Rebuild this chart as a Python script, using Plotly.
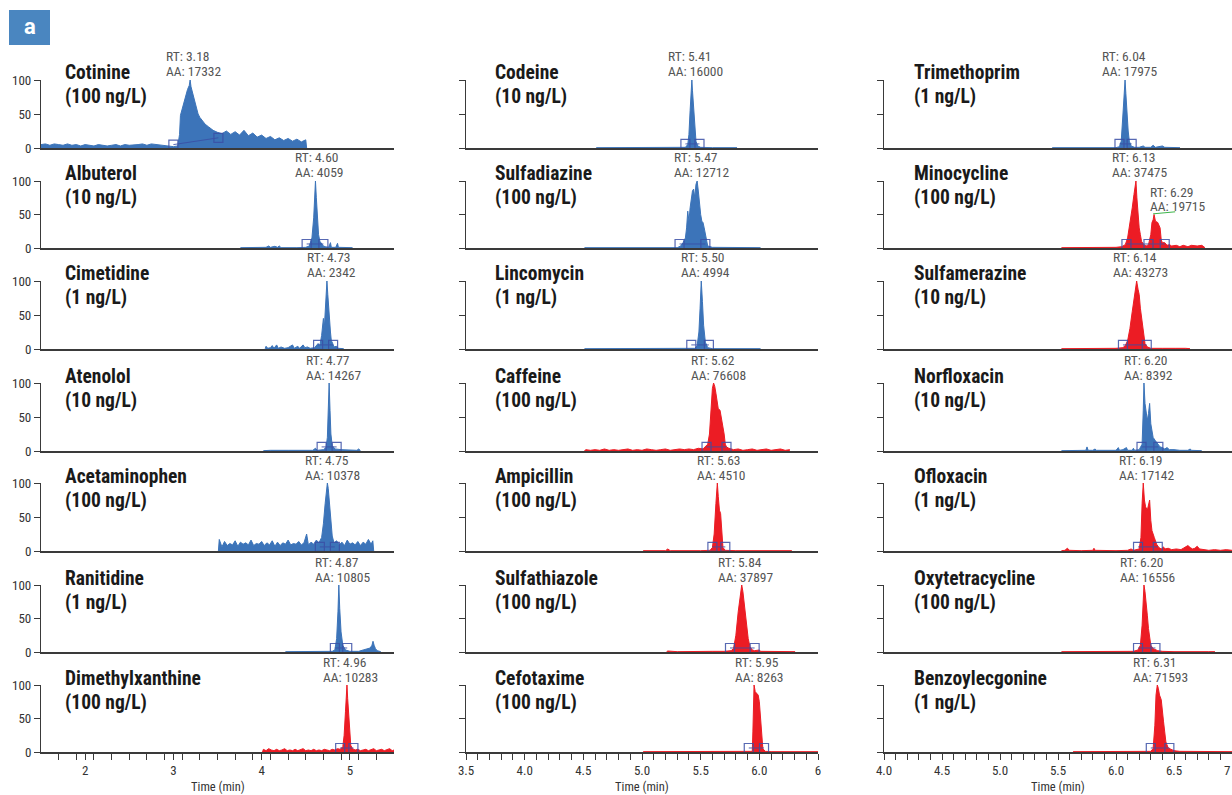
import plotly.graph_objects as go

W, H = 1232, 795
FONT = "Liberation Sans Narrow, Roboto Condensed, Arial Narrow, Roboto, Liberation Sans, Arial, sans-serif"
BLUE = "#3c74b9"
RED = "#ec1c24"
BOX = "#3a4fa6"
TXT = "#555555"
AXIS = "#3a3a3a"

# ---------------- data (time in min, relative abundance in %) ----------------
cotinine_t = [1.50,1.55,1.60,1.65,1.70,1.75,1.80,1.85,1.90,1.95,2.00,2.05,2.10,2.15,2.20,2.25,2.30,2.35,2.40,2.45,
              2.50,2.55,2.60,2.65,2.70,2.75,2.80,2.85,2.90,2.95,3.00,3.05,3.07,3.08,3.10,3.12,3.14,3.16,3.18,3.19,
              3.20,3.22,3.24,3.26,3.28,3.30,3.33,3.36,3.40,3.45,3.50,3.55,3.60,3.65,3.70,3.75,3.80,3.85,3.90,3.95,
              4.00,4.05,4.10,4.15,4.20,4.25,4.30,4.35,4.40,4.45,4.50,4.51]
cotinine_y = [5,6,4,6,5,4,6,4,5,3,5,4,3,5,4,3,4,5,3,5,4,4,5,6,4,6,5,4,3,2,
              2,3,20,48,58,68,78,86,92,100,90,80,66,56,50,45,40,35,
              31,26,23,21,25,20,24,19,26,18,22,16,19,14,17,12,15,11,14,10,13,9,12,0]
albuterol_t = [3.76,3.80,4.05,4.08,4.10,4.15,4.18,4.20,4.22,4.40,4.50,4.54,4.57,4.59,4.60,4.61,4.62,4.63,4.645,4.66,
               4.68,4.70,4.72,4.76,4.78,4.79,4.84,4.86,4.87,4.95,5.03]
albuterol_y = [0.5,0.5,1,3,1,2.5,1,3,0.5,0.5,1,3,15,45,80,100,75,45,20,10,6,3,2,1,8,1,1,7,1,0.5,0.5]
cimetidine_t = [4.04,4.05,4.07,4.10,4.12,4.14,4.17,4.19,4.22,4.26,4.30,4.35,4.37,4.41,4.43,4.47,4.49,4.52,4.55,4.60,
                4.64,4.66,4.68,4.70,4.71,4.72,4.73,4.74,4.75,4.76,4.77,4.78,4.79,4.80,4.82,4.85,4.87,4.93]
cimetidine_y = [0.5,4,1,2,5,1,6,1,3,1,2,6,1,4,1,6,2,3,1,2,8,5,20,45,30,55,70,100,80,55,40,25,12,10,3,4,1,0.5]
atenolol_t = [4.02,4.10,4.30,4.50,4.58,4.61,4.63,4.70,4.73,4.745,4.755,4.765,4.775,4.785,4.80,4.83,4.90,5.00,5.08,5.10,5.12]
atenolol_y = [0.5,1,1,1,1,4,1,2,5,20,60,100,60,25,8,3,2,1,1,3,0.5]
acetaminophen_t = [3.51,3.52,3.55,3.58,3.61,3.64,3.67,3.70,3.73,3.76,3.79,3.82,3.85,3.88,3.91,3.94,3.97,4.00,4.03,4.06,
                   4.09,4.12,4.15,4.18,4.21,4.24,4.27,4.30,4.33,4.36,4.39,4.42,4.45,4.48,4.51,4.53,4.56,4.59,4.62,4.65,
                   4.68,4.70,4.72,4.735,4.745,4.755,4.77,4.785,4.80,4.82,4.85,4.88,4.91,4.94,4.97,5.00,5.03,5.06,5.09,5.12,
                   5.15,5.18,5.21,5.24,5.26,5.27]
acetaminophen_y = [0,17,6,14,8,11,9,15,7,13,10,12,9,16,8,11,10,14,8,12,9,15,7,13,8,12,10,16,9,11,
                   10,14,9,12,25,9,13,10,16,12,20,40,70,95,100,92,70,45,22,12,15,9,13,8,16,10,12,9,14,8,
                   13,10,17,10,15,0]
ranitidine_t = [4.27,4.30,4.50,4.60,4.70,4.80,4.83,4.85,4.865,4.875,4.885,4.90,4.92,4.95,5.00,5.10,5.15,5.20,5.23,5.25,
                5.262,5.275,5.29,5.31,5.34,5.35]
ranitidine_y = [0.5,0.5,1,0.5,1,1,3,20,60,100,65,30,10,3,1,1,3,5,6,10,16,10,5,2,1,0.5]
dimethylxanthine_t = [4.01,4.02,4.05,4.08,4.11,4.14,4.17,4.20,4.23,4.26,4.29,4.32,4.35,4.38,4.41,4.44,4.47,4.50,4.53,4.56,
                      4.59,4.62,4.65,4.68,4.71,4.74,4.77,4.80,4.83,4.86,4.89,4.92,4.935,4.95,4.96,4.967,4.975,4.985,4.995,5.01,
                      5.03,5.06,5.09,5.12,5.15,5.18,5.21,5.24,5.27,5.30,5.33,5.36,5.39,5.42,5.45,5.48,5.50]
dimethylxanthine_y = [0,4,2,5,3,2,4,2,3,5,2,3,2,4,2,3,5,2,3,2,4,2,3,2,4,3,2,4,3,5,
                      4,8,25,60,85,100,80,60,35,10,5,3,4,2,3,4,2,3,5,2,3,4,2,3,5,2,3]
codeine_t = [4.61,4.70,5.00,5.30,5.37,5.39,5.40,5.41,5.42,5.425,5.43,5.44,5.45,5.46,5.475,5.50,5.60,5.81]
codeine_y = [0.5,0.5,0.5,0.5,1,5,20,55,90,100,85,55,25,10,3,1,0.5,0.5]
sulfadiazine_t = [4.51,4.60,5.00,5.30,5.33,5.35,5.37,5.38,5.39,5.40,5.41,5.42,5.43,5.44,5.45,5.46,5.47,5.48,5.49,5.50,
                  5.51,5.52,5.53,5.54,5.55,5.56,5.60,5.80,6.01]
sulfadiazine_y = [0.5,0.5,0.5,0.5,3,8,15,30,55,40,60,70,85,88,75,95,100,85,60,50,40,38,30,22,10,3,1,0.5,0.5]
lincomycin_t = [4.51,4.80,5.20,5.45,5.47,5.485,5.495,5.505,5.515,5.525,5.54,5.56,5.60,6.01]
lincomycin_y = [0.5,0.5,0.5,1,5,25,60,100,70,35,10,2,0.5,0.5]
caffeine_t = [4.51,4.52,4.56,4.60,4.64,4.68,4.72,4.76,4.80,4.84,4.88,4.92,4.96,5.00,5.04,5.08,5.12,5.16,5.20,5.24,
              5.28,5.32,5.36,5.40,5.44,5.48,5.52,5.54,5.56,5.575,5.59,5.60,5.61,5.62,5.63,5.64,5.65,5.665,5.68,5.69,
              5.70,5.71,5.72,5.74,5.78,5.82,5.86,5.90,5.94,5.98,6.02,6.06,6.10,6.14,6.18,6.22,6.26]
caffeine_y = [0,2,1,2,1,3,1,2,1,2,3,1,2,1,3,2,1,2,3,1,2,3,2,3,2,4,3,6,10,25,
              70,92,100,95,85,70,62,60,45,40,25,10,6,4,2,3,1,2,3,1,2,3,1,2,3,1,2]
ampicillin_t = [5.01,5.10,5.20,5.22,5.24,5.50,5.58,5.60,5.615,5.63,5.642,5.65,5.66,5.67,5.68,5.69,5.71,5.80,6.277]
ampicillin_y = [0.5,0.5,0.5,3,0.5,0.5,1,5,25,70,100,80,60,55,20,5,1,0.5,0.5]
sulfathiazole_t = [5.21,5.22,5.30,5.40,5.50,5.60,5.70,5.76,5.78,5.80,5.82,5.84,5.85,5.86,5.875,5.89,5.905,5.92,5.94,5.96,
                   6.00,6.01,6.10,6.20,6.25,6.305]
sulfathiazole_y = [0.5,1.5,0.5,1,0.5,1,1,2,5,25,60,90,100,90,65,40,20,8,3,2,3,1,1,1.5,1,0.5]
cefotaxime_t = [5.01,5.50,5.90,5.94,5.945,5.955,5.965,5.975,5.99,6.00,6.01,6.02,6.03,6.05,6.10,6.50]
cefotaxime_y = [0.5,0.5,0.5,1,30,100,90,88,85,75,50,20,5,1,0.5,0.5]
trimethoprim_t = [5.45,5.50,5.80,6.00,6.03,6.045,6.06,6.07,6.078,6.085,6.095,6.105,6.115,6.13,6.16,6.20,6.235,6.25,6.30,6.32,
                  6.34,6.40,6.42,6.552]
trimethoprim_y = [0.5,0.5,0.5,0.5,2,10,50,90,100,80,50,25,10,3,1,1,3,1,1,4,1,3,1,0.5]
minocycline_t = [5.53,5.60,5.80,6.00,6.05,6.08,6.10,6.12,6.14,6.155,6.165,6.172,6.18,6.19,6.20,6.21,6.22,6.24,6.26,6.28,
                 6.29,6.30,6.31,6.32,6.328,6.34,6.36,6.38,6.39,6.40,6.42,6.44,6.46,6.48,6.52,6.55,6.58,6.62,6.65,6.70,
                 6.74,6.767]
minocycline_y = [0.5,0.5,0.5,1,2,5,15,35,60,80,95,100,75,50,30,20,10,5,3,5,
                 15,20,38,42,50,40,38,30,12,8,8,4,5,3,4,2,4,2,4,3,4,0.5]
sulfamerazine_t = [5.53,5.60,5.90,6.00,6.06,6.08,6.10,6.12,6.14,6.155,6.17,6.178,6.19,6.20,6.21,6.22,6.23,6.24,6.25,6.27,
                   6.30,6.40,6.50,6.51,6.60,6.638]
sulfamerazine_y = [0.5,0.5,0.5,1,2,5,12,30,55,75,95,100,88,80,60,45,30,15,8,3,1,1,2,1,1,0.5]
norfloxacin_t = [5.53,5.60,5.74,5.75,5.76,5.80,5.82,5.83,5.90,6.00,6.02,6.03,6.06,6.09,6.10,6.14,6.15,6.16,6.20,6.225,
                 6.235,6.241,6.25,6.26,6.27,6.28,6.29,6.30,6.31,6.32,6.34,6.36,6.38,6.40,6.42,6.44,6.46,6.50,6.55,6.62,
                 6.64,6.65,6.70,6.739]
norfloxacin_y = [0.5,0.5,1,6,1,1,3,1,1,1,5,1,2,5,1,1,4,1,2,10,
                 60,100,70,55,45,55,70,40,30,20,15,10,6,5,3,5,2,2,1,1,3,1,1,0.5]
ofloxacin_t = [5.53,5.56,5.58,5.60,5.70,5.80,5.81,5.82,6.00,6.10,6.13,6.15,6.20,6.215,6.225,6.235,6.245,6.255,6.27,6.28,
               6.29,6.30,6.31,6.33,6.35,6.37,6.39,6.41,6.42,6.45,6.48,6.52,6.56,6.58,6.60,6.62,6.64,6.66,6.68,6.70,
               6.72,6.75,6.80,6.85,6.90,6.95,7.00]
ofloxacin_y = [0.5,1,4,1,0.5,1,4,1,0.5,1,3,1,3,20,70,100,75,65,60,70,
               75,45,30,20,10,5,3,6,3,4,2,3,2,4,6,8,5,3,4,7,3,2,1,2,1,2,1]
oxytetracycline_t = [5.53,5.60,6.00,6.15,6.19,6.21,6.225,6.235,6.241,6.25,6.26,6.27,6.28,6.29,6.30,6.32,6.34,6.36,6.40,6.50,
                     6.80,6.853]
oxytetracycline_y = [0.5,0.5,0.5,1,3,10,40,80,100,90,75,55,35,20,10,5,3,2,1,0.5,0.5,0.5]
benzoylecgonine_t = [5.63,5.64,6.00,6.20,6.30,6.32,6.335,6.345,6.356,6.365,6.375,6.39,6.40,6.41,6.42,6.43,6.45,6.48,6.50,6.55,
                     6.70,7.00]
benzoylecgonine_y = [0.5,0.5,0.5,0.5,1,5,40,85,100,95,85,78,65,45,30,15,6,3,2,1,0.5,0.5]

# compound names, concentrations (column-major order)
compounds = ["Cotinine", "Albuterol", "Cimetidine", "Atenolol", "Acetaminophen", "Ranitidine", "Dimethylxanthine",
             "Codeine", "Sulfadiazine", "Lincomycin", "Caffeine", "Ampicillin", "Sulfathiazole", "Cefotaxime",
             "Trimethoprim", "Minocycline", "Sulfamerazine", "Norfloxacin", "Ofloxacin", "Oxytetracycline", "Benzoylecgonine"]
concentrations = ["(100 ng/L)", "(10 ng/L)", "(1 ng/L)", "(10 ng/L)", "(100 ng/L)", "(1 ng/L)", "(100 ng/L)",
                  "(10 ng/L)", "(100 ng/L)", "(1 ng/L)", "(100 ng/L)", "(100 ng/L)", "(100 ng/L)", "(100 ng/L)",
                  "(1 ng/L)", "(100 ng/L)", "(10 ng/L)", "(10 ng/L)", "(1 ng/L)", "(100 ng/L)", "(1 ng/L)"]
rt_values = ["3.18", "4.60", "4.73", "4.77", "4.75", "4.87", "4.96",
             "5.41", "5.47", "5.50", "5.62", "5.63", "5.84", "5.95",
             "6.04", "6.13", "6.14", "6.20", "6.19", "6.20", "6.31"]
aa_values = ["17332", "4059", "2342", "14267", "10378", "10805", "10283",
             "16000", "12712", "4994", "76608", "4510", "37897", "8263",
             "17975", "37475", "43273", "8392", "17142", "16556", "71593"]
label_left_t = [2.894, 4.356, 4.492, 4.480, 4.469, 4.582, 4.673,
                5.205, 5.256, 5.316, 5.401, 5.452, 5.631, 5.776,
                5.862, 5.948, 5.957, 6.052, 6.009, 6.017, 6.129]
trace_kind = ["b", "b", "b", "b", "b", "b", "r",
              "b", "b", "b", "r", "r", "r", "r",
              "b", "r", "r", "b", "r", "r", "r"]
# integration window markers (min)
integration_t = [[3.00, 3.51], [4.51, 4.70], [4.64, 4.81], [4.68, 4.85], [4.66, 4.83], [4.83, 4.97], [4.89, 5.04],
                 [5.37, 5.49], [5.32, 5.54], [5.42, 5.57], [5.55, 5.72], [5.60, 5.71], [5.75, 5.96], [5.91, 6.04],
                 [6.03, 6.135], [6.09, 6.28, 6.42], [6.06, 6.265], [6.22, 6.365], [6.19, 6.36], [6.19, 6.34], [6.30, 6.46]]
cotinine_baseline_y = [5, 15]
second_peak_label = ("6.29", "19715")

series_t = [cotinine_t, albuterol_t, cimetidine_t, atenolol_t, acetaminophen_t, ranitidine_t, dimethylxanthine_t,
            codeine_t, sulfadiazine_t, lincomycin_t, caffeine_t, ampicillin_t, sulfathiazole_t, cefotaxime_t,
            trimethoprim_t, minocycline_t, sulfamerazine_t, norfloxacin_t, ofloxacin_t, oxytetracycline_t, benzoylecgonine_t]
series_y = [cotinine_y, albuterol_y, cimetidine_y, atenolol_y, acetaminophen_y, ranitidine_y, dimethylxanthine_y,
            codeine_y, sulfadiazine_y, lincomycin_y, caffeine_y, ampicillin_y, sulfathiazole_y, cefotaxime_y,
            trimethoprim_y, minocycline_y, sulfamerazine_y, norfloxacin_y, ofloxacin_y, oxytetracycline_y, benzoylecgonine_y]

# axis ticks
col_tickvals = [[2, 3, 4, 5], [3.5, 4.0, 4.5, 5.0, 5.5, 6.0, 6.5], [4.0, 4.5, 5.0, 5.5, 6.0, 6.5, 7.0]]
col_ticktext = [["2", "3", "4", "5"], ["3.5", "4.0", "4.5", "5.0", "5.5", "6.0", "6"], ["4.0", "4.5", "5.0", "5.5", "6.0", "6.5", "7"]]

# ---------------- layout geometry ----------------
x_dom_px = [(41, 394), (466, 818), (884, 1232)]
x_ranges = [(1.5, 5.5), (3.5, 6.5), (4.0, 7.0)]
minor_step = [0.2, 0.1, 0.1]
row_top = [80, 181, 281, 383, 483, 585, 685]
row_bot = [148, 248, 349, 451, 551, 652, 752]
name_left_px = [63, 493, 912]

fig = go.Figure()
layout = dict(width=W, height=H, margin=dict(l=0, r=0, t=0, b=0, pad=0, autoexpand=False), autosize=False,
              paper_bgcolor="white", plot_bgcolor="rgba(0,0,0,0)", showlegend=False,
              font=dict(family=FONT, color="#333333", size=12))
annotations = []
shapes = []

for i in range(21):
    c, r = divmod(i, 7)
    k = i + 1
    sx = "" if k == 1 else str(k)
    xref, yref = "x" + sx, "y" + sx
    color = BLUE if trace_kind[i] == "b" else RED
    row_h = row_bot[r] - row_top[r]

    xa = dict(domain=[x_dom_px[c][0] / W, x_dom_px[c][1] / W], range=list(x_ranges[c]), anchor=yref,
              showline=True, linecolor=AXIS, linewidth=1.5, showgrid=False, zeroline=False, fixedrange=True,
              automargin=False)
    if r == 6:
        lo, hi = x_ranges[c]
        n = int(round((hi - lo) / minor_step[c]))
        minors = [round(lo + minor_step[c] * j, 3) for j in range(1, n)]
        minors = [m for m in minors if all(abs(m - v) > 1e-6 for v in col_tickvals[c])]
        # the last label of the right column is drawn separately so it stays inside the page
        tv = col_tickvals[c][:-1] if c == 2 else col_tickvals[c]
        tt = col_ticktext[c][:-1] if c == 2 else col_ticktext[c]
        xa.update(tickmode="array", tickvals=tv, ticktext=tt,
                  ticks="outside", ticklen=6, tickwidth=1, tickcolor=AXIS,
                  tickfont=dict(size=13, color="#333333", family=FONT),
                  minor=dict(tickmode="array", tickvals=minors, ticks="outside", ticklen=6,
                             tickwidth=1, tickcolor=AXIS, showgrid=False))
    else:
        xa.update(showticklabels=False, ticks="")
    ya = dict(domain=[1 - row_bot[r] / H, 1 - row_top[r] / H], range=[0, 100], anchor=xref,
              tickmode="array", tickvals=[0, 50, 100], ticks="outside", ticklen=6, tickwidth=1,
              tickcolor=AXIS, showline=True, linecolor=AXIS, linewidth=1.2, showgrid=False,
              zeroline=False, showticklabels=(c == 0), fixedrange=True, automargin=False,
              tickfont=dict(size=13, color="#333333", family=FONT))
    layout["xaxis" + sx] = xa
    layout["yaxis" + sx] = ya

    fig.add_trace(go.Scatter(x=series_t[i], y=series_y[i], mode="lines", fill="tozeroy",
                             fillcolor=color, line=dict(color=color, width=1),
                             xaxis=xref, yaxis=yref, hoverinfo="skip"))
    sq_t = integration_t[i]
    sq_y = cotinine_baseline_y if i == 0 else [6] * len(sq_t)
    fig.add_trace(go.Scatter(x=sq_t, y=sq_y, mode="lines+markers",
                             marker=dict(symbol="square-open", size=9, color=BOX, line=dict(width=1.2, color=BOX)),
                             line=dict(color=BOX, width=1), opacity=0.85,
                             xaxis=xref, yaxis=yref, hoverinfo="skip"))

    # compound name and concentration
    annotations.append(dict(text="<b>%s</b>" % compounds[i], x=name_left_px[c] / W, xref="paper",
                            y=1 - (row_top[r] - 7) / H, yref="paper", xanchor="left", yanchor="middle",
                            showarrow=False, font=dict(size=19.5, color="#1a1a1a", family=FONT)))
    annotations.append(dict(text="<b>%s</b>" % concentrations[i], x=name_left_px[c] / W, xref="paper",
                            y=1 - (row_top[r] + 17) / H, yref="paper", xanchor="left", yanchor="middle",
                            showarrow=False, font=dict(size=19.5, color="#1a1a1a", family=FONT)))
    # RT / AA labels (y in domain units, above the top of the axis)
    annotations.append(dict(text="RT: %s" % rt_values[i], x=label_left_t[i], xref=xref,
                            y=1 + 23.5 / row_h, yref=yref + " domain", xanchor="left", yanchor="middle",
                            showarrow=False, font=dict(size=13.5, color=TXT, family=FONT)))
    annotations.append(dict(text="AA: %s" % aa_values[i], x=label_left_t[i], xref=xref,
                            y=1 + 8.5 / row_h, yref=yref + " domain", xanchor="left", yanchor="middle",
                            showarrow=False, font=dict(size=13.5, color=TXT, family=FONT)))
    if compounds[i] == "Minocycline":
        annotations.append(dict(text="RT: %s" % second_peak_label[0], x=6.28, xref=xref,
                                y=1 - 11 / row_h, yref=yref + " domain", xanchor="left", yanchor="middle",
                                showarrow=False, font=dict(size=13.5, color=TXT, family=FONT)))
        annotations.append(dict(text="AA: %s" % second_peak_label[1], x=6.28, xref=xref,
                                y=1 - 25 / row_h, yref=yref + " domain", xanchor="left", yanchor="middle",
                                showarrow=False, font=dict(size=13.5, color=TXT, family=FONT)))
        shapes.append(dict(type="line", xref=xref, yref=yref, x0=6.32, y0=51, x1=6.51, y1=54,
                           line=dict(color="#3cb54a", width=1)))
    if r == 6 and c == 2:
        # last tick label at the right page edge, kept fully inside
        annotations.append(dict(text=col_ticktext[c][-1], x=col_tickvals[c][-1], xref=xref,
                                y=-18 / row_h, yref=yref + " domain",
                                xanchor="right", yanchor="middle", showarrow=False,
                                font=dict(size=13, color="#333333", family=FONT)))

# x-axis titles
for c in range(3):
    annotations.append(dict(text="Time (min)", x=(x_dom_px[c][0] + x_dom_px[c][1]) / 2 / W, xref="paper",
                            y=1 - 786 / H, yref="paper", xanchor="center", yanchor="middle",
                            showarrow=False, font=dict(size=12.5, color="#333333", family=FONT)))

# panel badge "a"
shapes.append(dict(type="rect", xref="paper", yref="paper", x0=9 / W, x1=50 / W, y0=1 - 45 / H, y1=1 - 10 / H,
                   fillcolor="#4a86c0", line=dict(width=0)))
annotations.append(dict(text="<b>a</b>", x=29.5 / W, xref="paper", y=1 - 27 / H, yref="paper",
                        xanchor="center", yanchor="middle", showarrow=False,
                        font=dict(size=22, color="white", family="Roboto, Liberation Sans, Arial, sans-serif")))

layout["annotations"] = annotations
layout["shapes"] = shapes
fig.update_layout(**layout)
fig.write_html("out.html", config={"displayModeBar": False},
               post_script="document.body.style.margin='0';document.body.style.overflow='hidden';")
